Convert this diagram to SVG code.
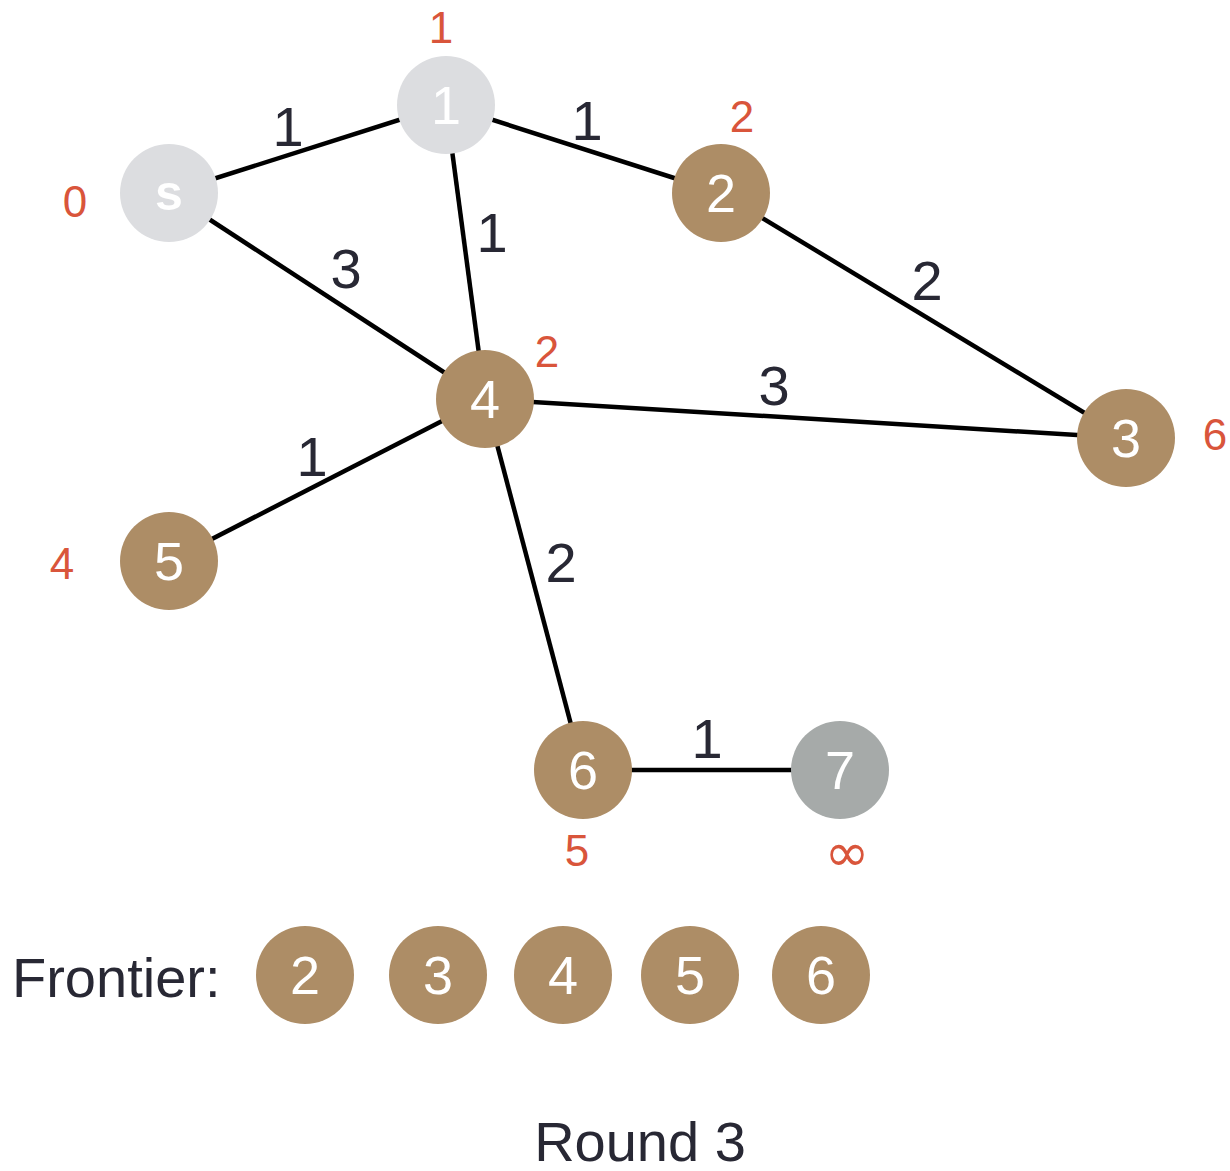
<svg xmlns="http://www.w3.org/2000/svg" width="1230" height="1171" viewBox="0 0 1230 1171">
  <style>
    text { font-family: "Liberation Sans", Arial, sans-serif; }
    .edge { stroke: #000; stroke-width: 4.5; fill: none; }
    .visited { fill: #DCDDE0; }
    .frontier { fill: #AD8D66; }
    .unseen { fill: #A6AAA9; }
    .nlabel { fill: #fff; font-size: 54px; text-anchor: middle; }
    .wlabel { fill: #282834; font-size: 56px; text-anchor: middle; }
    .dist { fill: #D9553B; font-size: 44px; text-anchor: middle; }
    .inf { font-family: "DejaVu Sans", sans-serif; font-size: 54px; }
    .caption { fill: #282834; font-size: 56px; }
  </style>

  <!-- connectors -->
  <g id="edges">
    <line class="edge" x1="169" y1="193" x2="446" y2="105"/>
    <line class="edge" x1="446" y1="105" x2="721" y2="193"/>
    <line class="edge" x1="446" y1="105" x2="485" y2="399"/>
    <line class="edge" x1="169" y1="193" x2="485" y2="399"/>
    <line class="edge" x1="721" y1="193" x2="1126" y2="438"/>
    <line class="edge" x1="485" y1="399" x2="1126" y2="438"/>
    <line class="edge" x1="485" y1="399" x2="169" y2="561"/>
    <line class="edge" x1="485" y1="399" x2="583" y2="770"/>
    <line class="edge" x1="583" y1="770" x2="840" y2="770"/>
    <text class="wlabel" x="288" y="146">1</text>
    <text class="wlabel" x="587" y="140">1</text>
    <text class="wlabel" x="492" y="252">1</text>
    <text class="wlabel" x="346" y="288">3</text>
    <text class="wlabel" x="927" y="300">2</text>
    <text class="wlabel" x="774" y="405">3</text>
    <text class="wlabel" x="312" y="476">1</text>
    <text class="wlabel" x="561" y="582">2</text>
    <text class="wlabel" x="707" y="758">1</text>
  </g>

  <!-- graph nodes with their distance labels -->
  <g id="node-s">
    <circle class="visited" cx="169" cy="193" r="49"/>
    <text class="nlabel" x="169" y="210" style="font-weight:bold;font-size:50px">s</text>
    <text class="dist" x="75" y="217">0</text>
  </g>
  <g id="node-1">
    <circle class="visited" cx="446" cy="105" r="49"/>
    <text class="nlabel" x="446" y="124">1</text>
    <text class="dist" x="441" y="43">1</text>
  </g>
  <g id="node-2">
    <circle class="frontier" cx="721" cy="193" r="49"/>
    <text class="nlabel" x="721" y="212">2</text>
    <text class="dist" x="742" y="132">2</text>
  </g>
  <g id="node-3">
    <circle class="frontier" cx="1126" cy="438" r="49"/>
    <text class="nlabel" x="1126" y="457">3</text>
    <text class="dist" x="1215" y="450">6</text>
  </g>
  <g id="node-4">
    <circle class="frontier" cx="485" cy="399" r="49"/>
    <text class="nlabel" x="485" y="418">4</text>
    <text class="dist" x="547" y="367">2</text>
  </g>
  <g id="node-5">
    <circle class="frontier" cx="169" cy="561" r="49"/>
    <text class="nlabel" x="169" y="580">5</text>
    <text class="dist" x="62" y="579">4</text>
  </g>
  <g id="node-6">
    <circle class="frontier" cx="583" cy="770" r="49"/>
    <text class="nlabel" x="583" y="789">6</text>
    <text class="dist" x="577" y="866">5</text>
  </g>
  <g id="node-7">
    <circle class="unseen" cx="840" cy="770" r="49"/>
    <text class="nlabel" x="840" y="789">7</text>
    <text class="dist inf" x="847" y="871">∞</text>
  </g>

  <!-- frontier queue -->
  <g id="frontier-list">
    <text class="caption" x="12" y="997">Frontier:</text>
    <circle class="frontier" cx="305" cy="975" r="49"/>
    <text class="nlabel" x="305" y="994">2</text>
    <circle class="frontier" cx="438" cy="975" r="49"/>
    <text class="nlabel" x="438" y="994">3</text>
    <circle class="frontier" cx="563" cy="975" r="49"/>
    <text class="nlabel" x="563" y="994">4</text>
    <circle class="frontier" cx="690" cy="975" r="49"/>
    <text class="nlabel" x="690" y="994">5</text>
    <circle class="frontier" cx="821" cy="975" r="49"/>
    <text class="nlabel" x="821" y="994">6</text>
  </g>

  <text class="caption" x="640" y="1161" text-anchor="middle">Round 3</text>
</svg>
